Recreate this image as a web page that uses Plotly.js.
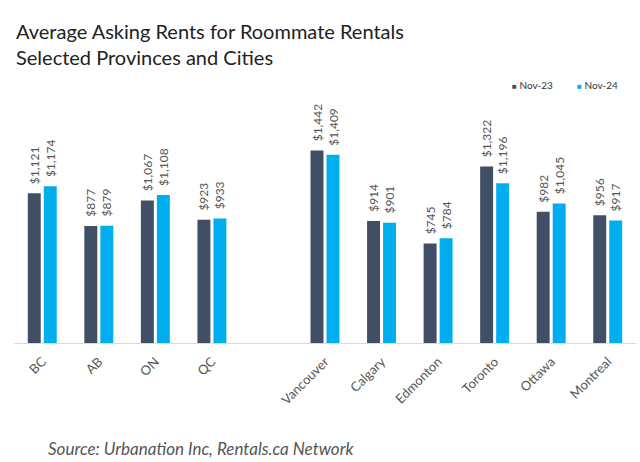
<!DOCTYPE html>
<html>
<head>
<meta charset="utf-8">
<script src="https://cdn.plot.ly/plotly-3.0.1.min.js"></script>
<style>
  html, body { margin: 0; padding: 0; background: #fff; }
  #chart { width: 640px; height: 462px; }
</style>
</head>
<body>
<div id="chart"></div>
<script>
// provinces, an empty slot, then cities
const places = ["BC", "AB", "ON", "QC", " ", "Vancouver", "Calgary", "Edmonton", "Toronto", "Ottawa", "Montreal"];
const nov23 = [1121, 877, 1067, 923, null, 1442, 914, 745, 1322, 982, 956];
const nov24 = [1174, 879, 1108, 933, null, 1409, 901, 784, 1196, 1045, 917];
const seriesNames = ["Nov-23", "Nov-24"];

const darkBlue = "#404f66";
const lightBlue = "#00aeef";

// plot area: x 14..636, baseline at y=343, 227px tall
const plotTop = 116, plotH = 227;
function py(pix) { return (plotTop + plotH - pix) / plotH; }
function px(pix) { return (pix - 14) / 622; }

function barTrace(name, values, color) {
    return {
        type: "bar",
        name: name,
        x: places,
        y: values,
        marker: { color: color },
        texttemplate: "\u00a0\u00a0$%{y:,.0f}",
        textposition: "outside",
        textangle: -90,
        constraintext: "none",
        cliponaxis: false,
        textfont: { family: "Lato, sans-serif", size: 12, color: "#555" },
        hoverinfo: "skip"
    };
}

function legendItem(name, color, xpix) {
    return {
        text: "<span style='color:" + color + ";font-size:8px'>■</span> " + name,
        xref: "paper", yref: "paper",
        x: px(xpix), xanchor: "left",
        y: py(85), yanchor: "middle",
        showarrow: false,
        font: { family: "Lato, sans-serif", size: 10, color: "#333" }
    };
}

let layout = {
    width: 640,
    height: 462,
    margin: { l: 14, r: 4, t: plotTop, b: 462 - plotTop - plotH },
    paper_bgcolor: "#fff",
    plot_bgcolor: "#fff",
    font: { family: "Lato, sans-serif", color: "#444" },
    title: {
        text: "Average Asking Rents for Roommate Rentals<br>Selected Provinces and Cities",
        font: { family: "Lato, sans-serif", size: 20, color: "#222" },
        xref: "container",
        yref: "container",
        x: 16 / 640,
        xanchor: "left",
        y: 1 - 39 / 462,
        yanchor: "middle"
    },
    barmode: "group",
    bargap: 0.434,
    bargroupgap: 0.19,
    xaxis: {
        type: "category",
        categoryorder: "array",
        categoryarray: places,
        range: [-0.5, 10.5],
        tickangle: -45,
        tickfont: { size: 13, color: "#555" },
        ticklabelstandoff: 5,
        showline: true,
        linecolor: "#d9d9d9",
        linewidth: 1,
        showgrid: false,
        ticks: "",
        fixedrange: true
    },
    yaxis: {
        range: [0, 1700],
        visible: false,
        fixedrange: true
    },
    showlegend: false,
    annotations: [
        legendItem(seriesNames[0], darkBlue, 510),
        legendItem(seriesNames[1], lightBlue, 575),
        {
            text: "<i>Source: Urbanation Inc, Rentals.ca Network</i>",
            xref: "paper", yref: "paper",
            x: px(46), xanchor: "left",
            y: py(448), yanchor: "middle",
            showarrow: false,
            font: { family: "Lato, sans-serif", size: 17, color: "#555" }
        }
    ]
};

Plotly.newPlot(
    "chart",
    [barTrace(seriesNames[0], nov23, darkBlue), barTrace(seriesNames[1], nov24, lightBlue)],
    layout,
    { displayModeBar: false, staticPlot: true }
);
</script>
</body>
</html>
